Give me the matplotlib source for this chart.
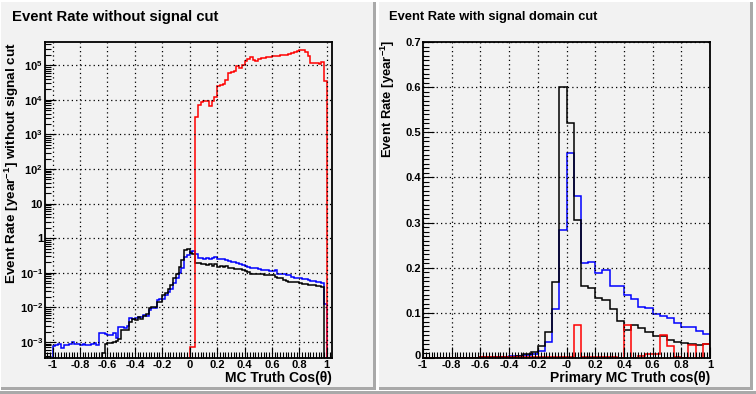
import numpy as np
import matplotlib
matplotlib.use("Agg")
import matplotlib.pyplot as plt
import matplotlib.transforms as mtransforms
from matplotlib.patches import Rectangle
from matplotlib.ticker import MultipleLocator, FixedLocator, LogLocator, NullFormatter

plt.rcParams['font.family'] = ['Liberation Sans', 'DejaVu Sans']
plt.rcParams['font.weight'] = 'bold'
plt.rcParams['mathtext.fontset'] = 'custom'
plt.rcParams['mathtext.rm'] = 'Liberation Sans:bold'
plt.rcParams['mathtext.bf'] = 'Liberation Sans:bold'
plt.rcParams['mathtext.it'] = 'Liberation Sans:bold'
plt.rcParams['mathtext.default'] = 'bf'

# ---- left pad: 100 bins over [-1, 1] ----
left_edges = np.linspace(-1, 1, 101)

left_black = [0]*18 + [
    5.0e-4, 9.0e-4, 9.5e-4, 9.5e-4, 1.0e-3, 1.05e-3, 1.2e-3, 2.3e-3, 2.2e-3, 2.3e-3,
    3.9e-3, 4.5e-3, 4.4e-3, 5.2e-3, 4.6e-3, 5.8e-3, 6.4e-3, 9.5e-3, 1.05e-2, 1.05e-2,
    1.4e-2, 1.4e-2, 2.3e-2, 2.6e-2, 3.5e-2, 4.5e-2, 7.0e-2, 9.0e-2, 0.15, 0.23,
    0.45, 0.48, 0.37, 0.34, 0.19, 0.19, 0.18, 0.18, 0.17, 0.175,
    0.16, 0.18, 0.15, 0.16, 0.15, 0.155, 0.14, 0.135, 0.13, 0.13,
    0.13, 0.12, 0.112, 0.105, 0.095, 0.092, 0.092, 0.092, 0.09, 0.088,
    0.088, 0.086, 0.086, 0.075, 0.07, 0.071, 0.062, 0.058, 0.056, 0.056,
    0.056, 0.055, 0.052, 0.049, 0.048, 0.046, 0.045, 0.044, 0.043, 0.041,
    0.039, 0]

left_blue = [
    7.8e-4, 8.5e-4, 8.7e-4, 6.8e-4, 8.5e-4, 8.3e-4, 8.7e-4, 1.0e-3, 8.7e-4, 8.7e-4,
    8.3e-4, 8.7e-4, 8.5e-4, 8.0e-4, 8.7e-4, 9.3e-4, 8.0e-4, 1.8e-3, 1.8e-3, 1.75e-3,
    1.6e-3, 1.6e-3, 1.8e-3, 1.3e-3, 2.8e-3, 2.7e-3, 2.6e-3, 2.9e-3, 4.9e-3, 4.7e-3,
    5.0e-3, 5.2e-3, 5.4e-3, 6.0e-3, 5.8e-3, 8.3e-3, 9.4e-3, 9.4e-3, 1.6e-2, 1.8e-2,
    1.8e-2, 2.3e-2, 2.8e-2, 3.5e-2, 5.0e-2, 7.0e-2, 0.10, 0.14, 0.28, 0.33,
    0.41, 0.43, 0.34, 0.27, 0.27, 0.26, 0.27, 0.26, 0.275, 0.28,
    0.26, 0.245, 0.245, 0.24, 0.22, 0.21, 0.205, 0.19, 0.18, 0.17,
    0.16, 0.15, 0.14, 0.14, 0.135, 0.13, 0.125, 0.125, 0.12, 0.115,
    0.115, 0.12, 0.095, 0.09, 0.09, 0.088, 0.085, 0.078, 0.072, 0.072,
    0.072, 0.066, 0.065, 0.064, 0.06, 0.058, 0.055, 0.053, 0.052, 0.0125]

left_red = [0]*50 + [7e-4, 7e-4] + [
    3.1e3, 6.9e3, 8.6e3, 9.2e3, 9.2e3, 6.6e3, 9.2e3, 1.2e4, 2.5e4, 2.7e4,
    2.9e4, 3.8e4, 5.9e4, 6.6e4, 6.8e4, 9.4e4, 8.6e4, 1.05e5, 1.36e5, 1.49e5,
    1.7e5, 1.42e5, 1.33e5, 1.52e5, 1.66e5, 1.66e5, 1.74e5, 1.72e5, 1.8e5, 1.8e5,
    1.9e5, 1.95e5, 1.95e5, 2.0e5, 2.1e5, 2.3e5, 2.45e5, 2.6e5, 2.75e5, 2.75e5,
    2.4e5, 1.85e5, 1.13e5, 1.2e5, 1.2e5, 1.12e5, 1.28e5, 3.5e4]

left_yticks = [1e-3, 1e-2, 1e-1, 1, 10, 1e2, 1e3, 1e4, 1e5]
left_ylabels = [r'$10^{-3}$', r'$10^{-2}$', r'$10^{-1}$', '1', '10',
                r'$10^{2}$', r'$10^{3}$', r'$10^{4}$', r'$10^{5}$']
left_xticks = [-1, -0.8, -0.6, -0.4, -0.2, 0, 0.2, 0.4, 0.6, 0.8, 1]
left_xlabels = ['-1', '-0.8', '-0.6', '-0.4', '-0.2', '0', '0.2', '0.4', '0.6', '0.8', '1']

# ---- right pad: 40 bins over [-1, 1] ----
right_edges = np.linspace(-1, 1, 41)

right_black = [0]*8 + [
    0.002, 0.002, 0.002, 0.003, 0.003, 0.005, 0.008, 0.013, 0.026, 0.058,
    0.168, 0.600, 0.520, 0.305, 0.159, 0.155, 0.132, 0.128, 0.108, 0.082,
    0.062, 0.074, 0.066, 0.057, 0.049, 0.049, 0.040, 0.036, 0.034, 0.031,
    0.028, 0.031]

right_blue = [0]*8 + [
    0.001, 0.001, 0.002, 0.002, 0.004, 0.004, 0.006, 0.008, 0.015, 0.035,
    0.108, 0.283, 0.455, 0.359, 0.211, 0.213, 0.188, 0.195, 0.159, 0.159,
    0.140, 0.131, 0.114, 0.110, 0.097, 0.092, 0.088, 0.078, 0.069, 0.068,
    0.059, 0.053]

right_red = [0]*8 + [
    0.0015, 0.0015, 0.0015, 0.0015, 0.0015, 0.0015, 0.0015, 0.0015, 0.0015, 0.0015,
    0.0015, 0.0015, 0.0015, 0.074, 0.002, 0.002, 0.003, 0.002, 0.002, 0.001,
    0.074, 0.001, 0.004, 0.009, 0.009, 0.051, 0.027, 0.002, 0.001, 0.028,
    0.001, 0.031]

right_yticks = [0, 0.1, 0.2, 0.3, 0.4, 0.5, 0.6, 0.7]
right_ylabels = ['0', '0.1', '0.2', '0.3', '0.4', '0.5', '0.6', '0.7']
right_xlabels = ['-1', '-0.8', '-0.6', '-0.4', '-0.2', '-0', '0.2', '0.4', '0.6', '0.8', '1']

W, H = 756, 394
fig = plt.figure(figsize=(W/100, H/100), dpi=100, facecolor='white')

def px_rect(x0, y0, x1, y1):
    # image pixel box -> figure fraction rectangle
    return (x0/W, 1 - y1/H, (x1-x0)/W, (y1-y0)/H)

def add_box(x0, y0, x1, y1, color):
    r = px_rect(x0, y0, x1, y1)
    fig.patches.append(Rectangle(r[:2], r[2], r[3], transform=fig.transFigure,
                                 facecolor=color, edgecolor='none', zorder=-5))

# pads (ROOT style bevelled boxes)
for (x0, y0, x1, y1) in [(1, 2, 376, 390), (379, 2, 753, 390)]:
    add_box(x0, y0, x1, y1, '#a9a9a9')
    add_box(x0, y0, x1 - 3, y1 - 3, '#f2f2f2')
add_box(0, 391, W, H, '#a9a9a9')

grid_kw = dict(color='black', linestyle=(0, (1, 2.5)), linewidth=0.9)

def style_axes(ax):
    ax.set_facecolor('#f2f2f2')
    for s in ax.spines.values():
        s.set_linewidth(1.3)
    ax.tick_params(which='both', direction='in', top=False, right=False,
                   labelsize=8, width=0.8)
    ax.tick_params(axis='x', pad=1.5)
    ax.tick_params(axis='y', pad=1.5)
    ax.tick_params(which='major', length=8)
    ax.tick_params(which='minor', length=4)

# left axes
axL = fig.add_axes(px_rect(45, 42, 332, 358))
style_axes(axL)
floor = 1e-9
axL.stairs(np.where(np.array(left_blue) > 0, left_blue, floor), left_edges,
           baseline=floor, color='blue', linewidth=1.1)
axL.stairs(np.where(np.array(left_black) > 0, left_black, floor), left_edges,
           baseline=floor, color='black', linewidth=1.1)
axL.stairs(np.where(np.array(left_red) > 0, left_red, floor), left_edges,
           baseline=floor, color='red', linewidth=1.1)
axL.set_yscale('log')
axL.set_xlim(-1.055, 1.038)
axL.set_ylim(3.47e-4, 4.7e5)
axL.set_xticks(left_xticks)
axL.set_xticklabels(left_xlabels, fontweight='bold')
axL.xaxis.set_minor_locator(MultipleLocator(0.02))
axL.yaxis.set_major_locator(FixedLocator(left_yticks))
axL.set_yticklabels(left_ylabels, fontweight='bold')
axL.yaxis.set_minor_locator(LogLocator(base=10, subs=np.arange(2, 10), numticks=20))
axL.yaxis.set_minor_formatter(NullFormatter())
axL.grid(True, which='major', **grid_kw)

fig.text(12/W, 1 - 17/H, 'Event Rate without signal cut', fontsize=10.7,
         fontweight='bold', ha='left', va='center')
fig.text(332/W, 1 - 378/H, 'MC Truth Cos(θ)', fontsize=10,
         fontweight='bold', ha='right', va='center')
fig.text(12/W, 1 - 42/H, r'Event Rate [year$^{-1}$] without signal cut', fontsize=9.7,
         fontweight='bold', ha='center', va='top', rotation=90)

# right axes
axR = fig.add_axes(px_rect(423, 42, 710, 358))
style_axes(axR)
axR.stairs(right_blue, right_edges, baseline=0, color='blue', linewidth=1.1)
axR.stairs(right_black, right_edges, baseline=0, color='black', linewidth=1.1)
axR.stairs(right_red, right_edges, baseline=0, color='red', linewidth=1.1)
axR.set_xlim(-1, 1)
axR.set_ylim(0, 0.7)
axR.set_xticks(left_xticks)
axR.set_xticklabels(right_xlabels, fontweight='bold')
axR.xaxis.set_minor_locator(MultipleLocator(0.02))
axR.set_yticks(right_yticks)
axR.set_yticklabels(right_ylabels, fontweight='bold')
axR.yaxis.set_minor_locator(MultipleLocator(0.01))
axR.grid(True, which='major', **grid_kw)
# lift the "0" label a little, as ROOT does, so it clears the "-1" below
zero_lbl = axR.get_yticklabels()[0]
zero_lbl.set_transform(zero_lbl.get_transform() +
                       mtransforms.ScaledTranslation(0, 3/100, fig.dpi_scale_trans))

fig.text(389/W, 1 - 17/H, 'Event Rate with signal domain cut', fontsize=9.3,
         fontweight='bold', ha='left', va='center')
fig.text(710/W, 1 - 378/H, 'Primary MC Truth cos(θ)', fontsize=10,
         fontweight='bold', ha='right', va='center')
fig.text(388/W, 1 - 40/H, r'Event Rate [year$^{-1}$]', fontsize=9.4,
         fontweight='bold', ha='center', va='top', rotation=90)

fig.savefig('out.png', dpi=100, facecolor='white')
